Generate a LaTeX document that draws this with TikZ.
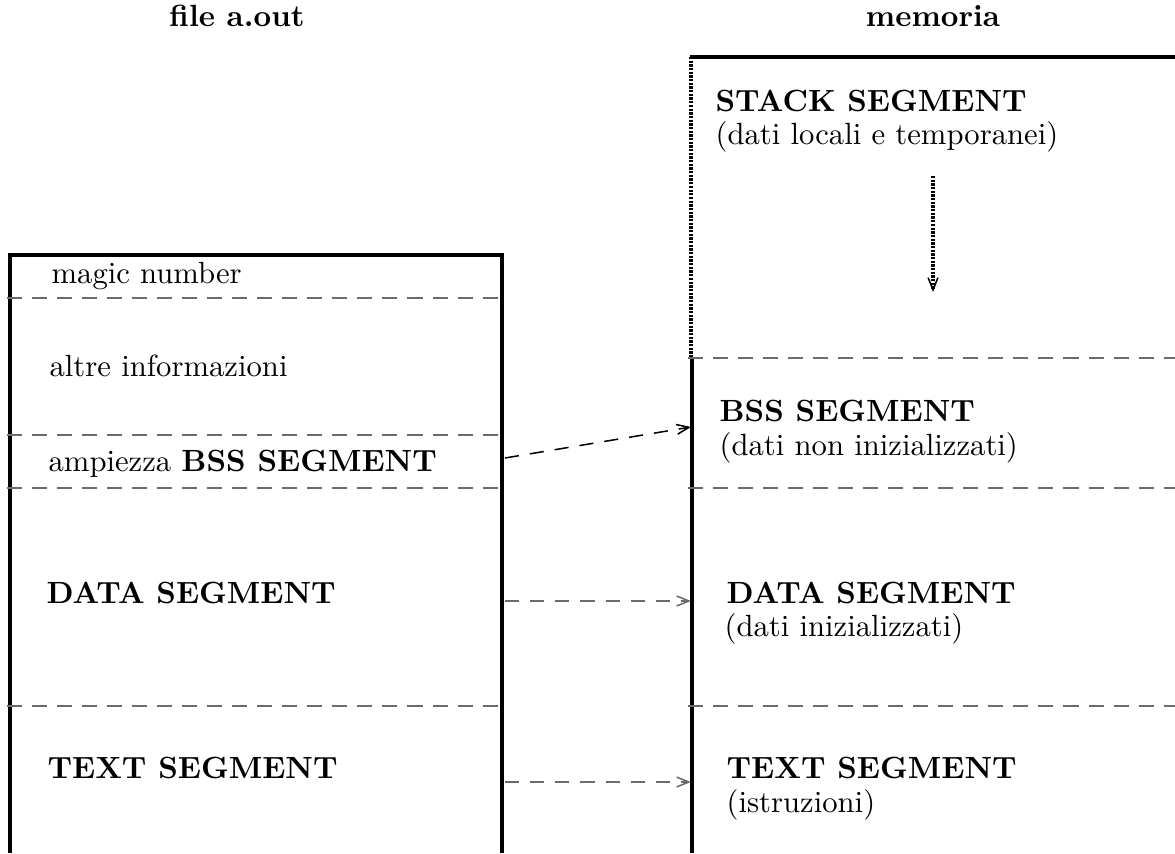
\documentclass[tikz,border=0pt]{standalone}
\usetikzlibrary{arrows.meta}
\definecolor{sepgray}{gray}{0.42}
\begin{document}
\begin{tikzpicture}[x=0.326pt,y=-0.326pt,
  frame/.style={line width=1.05pt,black},
  sepline/.style={line width=0.6pt,sepgray,dash pattern=on 4.9pt off 3.26pt},
  link/.style={line width=0.5pt,dash pattern=on 4.6pt off 3.6pt,
    -{Straight Barb[length=4pt,width=3.2pt]}},
  dotline/.style={line width=1.1pt,dash pattern=on 0.75pt off 0.45pt},
  lbl/.style={anchor=base west,inner sep=0pt},
  ttl/.style={anchor=base,inner sep=0pt,font=\bfseries}]
\useasboundingbox (0,0) rectangle (1175,853);

% titles
\node[ttl] (tfile) at (237,27) {file a.out};
\node[ttl] (tmem)  at (933,27) {memoria};

% file a.out: outer frame and field separators
\draw[frame] (10,853) -- (10,255) -- (502,255) -- (502,853);
\foreach \yy in {298,435,488,706}
  \draw[sepline] (7,\yy) -- (502,\yy);

\node[lbl] (magic) at (51,284) {magic number};
\node[lbl] (altre) at (49,377) {altre informazioni};
\node[lbl] (ampl)  at (48,471) {ampiezza \textbf{BSS SEGMENT}};
\node[lbl] (datal) at (46,603) {\textbf{DATA SEGMENT}};
\node[lbl] (textl) at (47,778) {\textbf{TEXT SEGMENT}};

% memory layout
\draw[frame] (690,57) -- (1175,57);
\draw[dotline] (691,57) -- (691,357);
\draw[frame] (692,357) -- (692,853);
\foreach \yy in {358,488,706}
  \draw[sepline] (688,\yy) -- (1175,\yy);

\node[lbl] (stack)  at (715,112) {\textbf{STACK SEGMENT}};
\node[lbl] (stackd) at (715,145) {(dati locali e temporanei)};
\node[lbl] (bss)    at (719,422) {\textbf{BSS SEGMENT}};
\node[lbl] (bssd)   at (719,455) {(dati non inizializzati)};
\node[lbl] (datar)  at (726,603) {\textbf{DATA SEGMENT}};
\node[lbl] (datad)  at (724,636) {(dati inizializzati)};
\node[lbl] (textr)  at (726,778) {\textbf{TEXT SEGMENT}};
\node[lbl] (textd)  at (726,812) {(istruzioni)};

% stack growth
\coordinate (sgA) at (933,176);
\coordinate (sgB) at (933,292);
\draw[dotline,-{Straight Barb[length=4pt,width=3.2pt,line width=0.5pt]}] (sgA) -- (sgB);

% links from the file sections to memory
\coordinate (bssA) at (505,458);
\coordinate (bssB) at (691,427);
\coordinate (datA) at (505,601);
\coordinate (datB) at (691,601);
\coordinate (txtA) at (505,782);
\coordinate (txtB) at (691,782);
\draw[link] (bssA) -- (bssB);
\draw[link,sepgray] (datA) -- (datB);
\draw[link,sepgray] (txtA) -- (txtB);
\end{tikzpicture}
\end{document}
